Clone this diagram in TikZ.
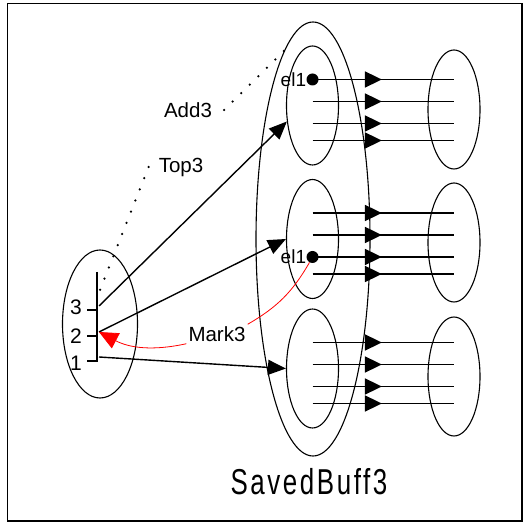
\documentclass[tikz,border=0pt]{standalone}
\usepackage{fontspec}
\setmainfont{Liberation Sans}
\usepackage{graphicx}
\usetikzlibrary{arrows.meta,positioning,calc,shapes.geometric,decorations.markings}

\begin{document}
\begin{tikzpicture}[x=1pt,y=1pt,>=Latex,
  blob/.style={ellipse,draw,line width=1.1pt,inner sep=0pt,minimum width=52pt,minimum height=119pt},
  flow/.style={line width=1.8pt,postaction={decorate},
    decoration={markings,mark=at position 0.49 with {\arrow{Triangle[length=17pt,width=16pt]}}}},
  push/.style={line width=1.4pt,-{Triangle[length=18pt,width=15pt]}},
  dots/.style={line width=2.5pt,line cap=round,dash pattern=on 0pt off 12pt},
  lbl/.style={font=\fontsize{20.5}{24}\selectfont,inner sep=2pt},
  dot/.style={circle,fill,inner sep=0pt,minimum size=12pt}]
  \useasboundingbox (0,0) rectangle (524,527);
  \draw[line width=1.5pt] (7.5,6) rectangle (522,523.5);

  % saved buffers
  \node[blob,minimum width=114pt,minimum height=434pt] (buff) at (313,288) {};
  \node[blob] (in1) at (312.5,421.5) {};
  \node[blob] (in2) at (312.5,288) {};
  \node[blob] (in3) at (312.5,158.5) {};
  \node[blob] (out1) at (454,417.5) {};
  \node[blob] (out2) at (454,284.5) {};
  \node[blob] (out3) at (454,150.5) {};

  \foreach \g in {1,2,3}
    \foreach \dy in {26,4,-18,-35}
      \draw[flow] ($(in\g)+(0,\dy)$) coordinate (a) -- (a -| out\g);

  \node[dot] (d1) at ($(in1)+(0,26)$) {};
  \node[dot] (d2) at ($(in2)+(0,-18)$) {};
  \node[font=\fontsize{19}{22}\selectfont,inner sep=1pt,left=-1pt of d1] (e1) {el1};
  \node[font=\fontsize{19}{22}\selectfont,inner sep=1pt,left=-1pt of d2] (e2) {el1};

  % stack
  \node[ellipse,draw,line width=1.1pt,minimum width=75pt,minimum height=148pt] (stack) at (100,203) {};
  \coordinate (stop) at (97,255);
  \coordinate (sbot) at (97,166);
  \draw[line width=1.4pt] (stop) -- (sbot) -- ++(-10,0);
  \draw[line width=1.4pt] (87,217) -- (97,217) (87,191) -- (97,191);
  \node[font=\fontsize{21}{24}\selectfont] (n3) at (76,219.5) {3};
  \node[font=\fontsize{21}{24}\selectfont] (n2) at (76,191) {2};
  \node[font=\fontsize{21}{24}\selectfont] (n1) at (76,164) {1};

  \coordinate (p3) at (99,221);
  \coordinate (p2) at (99,195);
  \coordinate (p1) at (99,170);
  \draw[push] (p3) -- (in1.212);
  \draw[push] (p2) -- (in2.west);
  \draw[push] (p1) -- (in3.west);

  % pointers
  \node[lbl] (top3) at (181,360) {Top3};
  \node[lbl] (add3) at (188,417) {Add3};
  \node[lbl] (mark) at (217,193) {Mark3};
  \coordinate (topend) at (98,232);
  \coordinate (addend) at (290,482);
  \draw[dots] ([xshift=-8pt]top3.west) -- (topend);
  \draw[dots] ([xshift=10pt]add3.east) -- (addend);
  \draw[red,line width=0.8pt,-{Triangle[length=19pt,width=17pt]}] (mark.south west) to[bend left=20] (p2);
  \draw[red,line width=0.8pt] (mark.north east) to[bend right=15] (d2);

  \node[font=\fontsize{36}{40}\selectfont] (title) at (309,45)
    {\scalebox{0.72}[1]{\addfontfeature{LetterSpace=10}SavedBuff3}};
\end{tikzpicture}
\end{document}
